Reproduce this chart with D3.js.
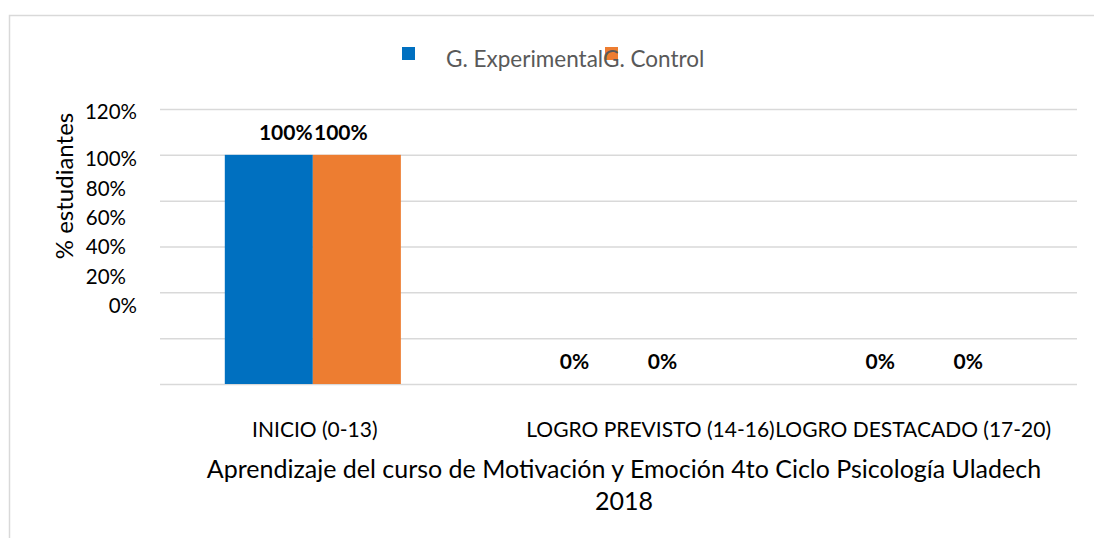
<!DOCTYPE html>
<html>
<head>
<meta charset="utf-8">
<script src="https://cdn.jsdelivr.net/npm/d3@7"></script>
<style>
  body { margin: 0; background: #fff; }
  svg { display: block; font-family: Lato, "Open Sans", sans-serif; }
</style>
</head>
<body>
<div id="chart"></div>
<script>
// chart data
const categories = ['INICIO (0-13)', 'LOGRO PREVISTO (14-16)', 'LOGRO DESTACADO (17-20)'];
const seriesNames = ['G. Experimental', 'G. Control'];
const experimental = [1, 0, 0];
const control = [1, 0, 0];
const yTicks = [0, 0.2, 0.4, 0.6, 0.8, 1.0, 1.2];
const yTickLabels = ['0%', '20%', '40%', '60%', '80%', '100%', '120%'];
const titleLines = ['Aprendizaje del curso de Motivación y Emoción 4to Ciclo Psicología Uladech', '2018'];

const width = 1094;
const height = 538;
const colors = ['#0070C0', '#ED7D31'];
// category labels are not quite centred in the original
const catLabelShift = [2, 32, -11];

const svg = d3.select('#chart')
  .append('svg')
  .attr('width', width)
  .attr('height', height);

// chart area border (top + left only visible)
svg.append('path')
  .attr('d', `M9.5,${height} V15.5 H${width}`)
  .attr('fill', 'none')
  .attr('stroke', '#d9d9d9')
  .attr('stroke-width', 1.5);

const plot = { left: 160, right: 1077, top: 109, bottom: 384 };

const x0 = d3.scaleBand()
  .domain(categories)
  .range([plot.left, plot.right])
  .paddingInner(0.424)
  .paddingOuter(0.212);

const x1 = d3.scaleBand()
  .domain(seriesNames)
  .range([0, x0.bandwidth()]);

const y = d3.scaleLinear()
  .domain([0, 1.2])
  .range([plot.bottom, plot.top]);

// the tick labels sit off their gridlines in the original
const yLabel = d3.scaleLinear()
  .domain([0, 1.0, 1.2])
  .range([306, 159, 112]);

// gridlines
const grid = svg.append('g')
  .attr('transform', `translate(${plot.left},0)`)
  .call(d3.axisLeft(y).tickValues(yTicks).tickSize(-(plot.right - plot.left)).tickFormat(''));
grid.select('.domain').remove();
grid.selectAll('.tick line')
  .attr('stroke', '#d9d9d9')
  .attr('stroke-width', 1.5);

// y tick labels
svg.append('g')
  .selectAll('text')
  .data(yTicks)
  .enter().append('text')
  .attr('x', 137)
  .attr('dx', d => (d > 0 && d < 1) ? -11 : 0)
  .attr('y', d => yLabel(d))
  .attr('dy', '0.35em')
  .attr('text-anchor', 'end')
  .attr('font-size', 20.5)
  .attr('fill', '#000')
  .text((d, i) => yTickLabels[i]);

// y axis title
svg.append('text')
  .attr('transform', 'translate(73,186) rotate(-90)')
  .attr('text-anchor', 'middle')
  .attr('font-size', 24)
  .attr('fill', '#000')
  .text('% estudiantes');

const rows = categories.map((c, i) => ({
  category: c,
  values: [experimental[i], control[i]]
}));

const groups = svg.selectAll('.group')
  .data(rows)
  .enter().append('g')
  .attr('class', 'group')
  .attr('transform', d => `translate(${x0(d.category)},0)`);

groups.selectAll('rect')
  .data(d => d.values.map((v, j) => ({ series: seriesNames[j], value: v, j })))
  .enter().append('rect')
  .attr('x', d => x1(d.series))
  .attr('y', d => y(d.value))
  .attr('width', x1.bandwidth())
  .attr('height', d => y(0) - y(d.value))
  .attr('fill', d => colors[d.j]);

// value labels; the tall ones are pulled together in the original
groups.selectAll('.label')
  .data(d => d.values.map((v, j) => ({ series: seriesNames[j], value: v, j })))
  .enter().append('text')
  .attr('class', 'label')
  .attr('x', d => x1(d.series) + x1.bandwidth() / 2 + (d.value > 0 ? (d.j === 0 ? 17 : -16) : 0))
  .attr('y', d => y(d.value) - 22)
  .attr('dy', '0.35em')
  .attr('text-anchor', 'middle')
  .attr('font-size', 21)
  .attr('font-weight', 'bold')
  .attr('fill', '#000')
  .text(d => d3.format('.0%')(d.value));

// category labels
svg.append('g')
  .selectAll('text')
  .data(categories)
  .enter().append('text')
  .attr('x', (d, i) => x0(d) + x0.bandwidth() / 2 + catLabelShift[i])
  .attr('y', 430)
  .attr('dy', '0.35em')
  .attr('text-anchor', 'middle')
  .attr('font-size', 21)
  .attr('fill', '#000')
  .text(d => d);

// axis title
svg.append('g')
  .selectAll('text')
  .data(titleLines)
  .enter().append('text')
  .attr('x', 624)
  .attr('y', (d, i) => 469 + i * 32)
  .attr('dy', '0.35em')
  .attr('text-anchor', 'middle')
  .attr('font-size', 25)
  .attr('fill', '#000')
  .text(d => d);

// legend
const legend = svg.append('g');
const legendX = [402, 605];
seriesNames.forEach((name, i) => {
  legend.append('rect')
    .attr('x', legendX[i])
    .attr('y', 47)
    .attr('width', 13)
    .attr('height', 13)
    .attr('fill', colors[i]);
});
legend.append('text')
  .attr('x', 446)
  .attr('y', 59)
  .attr('dy', '0.35em')
  .attr('font-size', 22.5)
  .attr('fill', '#595959')
  .text(seriesNames[0]);
legend.append('text')
  .attr('x', 603)
  .attr('y', 59)
  .attr('dy', '0.35em')
  .attr('font-size', 22.5)
  .attr('fill', '#595959')
  .text(seriesNames[1]);
</script>
</body>
</html>
